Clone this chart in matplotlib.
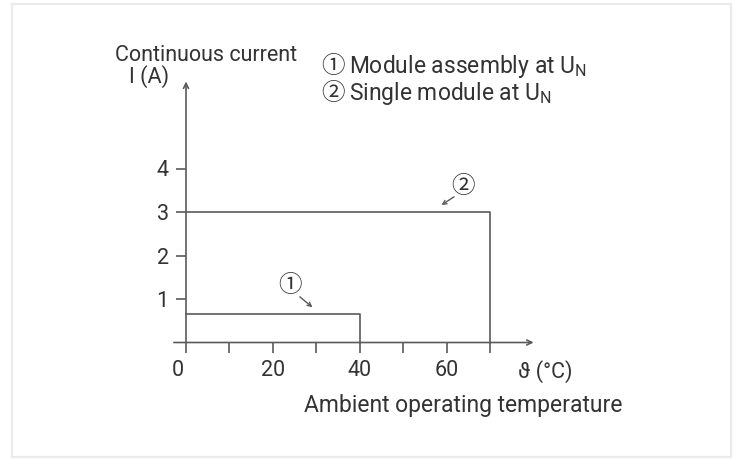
import matplotlib
matplotlib.use("Agg")
import matplotlib.pyplot as plt
from matplotlib.patches import Rectangle
from matplotlib.transforms import ScaledTranslation

plt.rcParams['font.family'] = ['Roboto', 'DejaVu Sans']
plt.rcParams['mathtext.fontset'] = 'custom'
plt.rcParams['mathtext.rm'] = 'Roboto'

# derating curves: (temperature limit, continuous current)
curve_names = ["Module assembly at U$_\\mathrm{N}$", "Single module at U$_\\mathrm{N}$"]
curve_marks = ["\u2460", "\u2461"]
temp_limit = [40, 70]
current_limit = [0.65, 3.0]

x_ticks = [0, 10, 20, 30, 40, 50, 60, 70]
x_tick_labels = ["0", "", "20", "", "40", "", "60", ""]
y_ticks = [1, 2, 3, 4]

line_col = "#5a5a5a"
text_col = "#333333"
fs = 15.5
fs_big = 16.5
fs_circ = 17
circ_font = ["Noto Sans CJK JP", "DejaVu Sans"]

fig = plt.figure(figsize=(7.39, 4.59), dpi=100)
fig.patch.set_facecolor("white")
fig.patches.append(Rectangle((12 / 739, 2 / 459), 719 / 739, 453 / 459,
                             transform=fig.transFigure, fill=False,
                             edgecolor="#ebebeb", linewidth=1.6))

ax = fig.add_axes([186 / 739, 116.5 / 459, 347.6 / 739, 261 / 459])
ax.set_xlim(0, 80)
ax.set_ylim(0, 6)
for s in ax.spines.values():
    s.set_visible(False)

# axes with arrow heads
arrow = dict(arrowstyle="->", color=line_col, lw=1.2, shrinkA=0, shrinkB=0,
             mutation_scale=9)
ax.annotate("", xy=(80, 0), xytext=(-2.8, 0), arrowprops=arrow, annotation_clip=False)
ax.annotate("", xy=(0, 6), xytext=(0, 0), arrowprops=arrow, annotation_clip=False)

ax.set_xticks(x_ticks)
ax.set_xticklabels(x_tick_labels)
ax.set_yticks(y_ticks)
ax.tick_params(axis="both", direction="out", length=7.5, width=1.2, color=line_col,
               labelsize=fs, labelcolor=text_col)
ax.tick_params(axis="x", pad=5)
ax.tick_params(axis="y", pad=5)
lbl0 = ax.get_xticklabels()[0]
lbl0.set_transform(lbl0.get_transform() + ScaledTranslation(-8 / 100, 0, fig.dpi_scale_trans))

# curves
for t, c in zip(temp_limit, current_limit):
    ax.plot([0, t, t], [c, c, 0], color=line_col, lw=1.2, clip_on=False)

# curve markers
small = dict(arrowstyle="->", color=line_col, lw=1.0, shrinkA=0, shrinkB=0,
             mutation_scale=7)
ax.text(23.9, 1.30, curve_marks[0], fontsize=fs_circ, color=text_col, ha="center",
        va="center", family=circ_font)
ax.annotate("", xy=(29.1, 0.81), xytext=(26.2, 1.05), arrowprops=small)
ax.text(63.8, 3.58, curve_marks[1], fontsize=fs_circ, color=text_col, ha="center",
        va="center", family=circ_font)
ax.annotate("", xy=(58.8, 3.16), xytext=(61.7, 3.35), arrowprops=small)

# axis titles
ax.text(4.6, 6.47, "Continuous current", fontsize=fs, color=text_col, ha="center",
        va="baseline", clip_on=False)
ax.text(-8.4, 5.97, "I (A)", fontsize=fs, color=text_col, ha="center",
        va="baseline", clip_on=False)
ax.text(82.6, -0.805, "\u03d1 (\u00b0C)", fontsize=fs, color=text_col, ha="center",
        va="baseline", clip_on=False)
ax.text(63.75, -1.6, "Ambient operating temperature", fontsize=fs_big, color=text_col,
        ha="center", va="baseline", clip_on=False)

# legend lines
for i, (m, name) in enumerate(zip(curve_marks, curve_names)):
    yb = 6.19 - 0.62 * i
    ax.text(31.1, yb, m, fontsize=fs_circ, color=text_col, ha="left", va="baseline",
            family=circ_font, clip_on=False)
    ax.text(37.6, yb, name, fontsize=fs_big, color=text_col, ha="left", va="baseline",
            clip_on=False)

fig.savefig("out.png", dpi=100, facecolor="white")
